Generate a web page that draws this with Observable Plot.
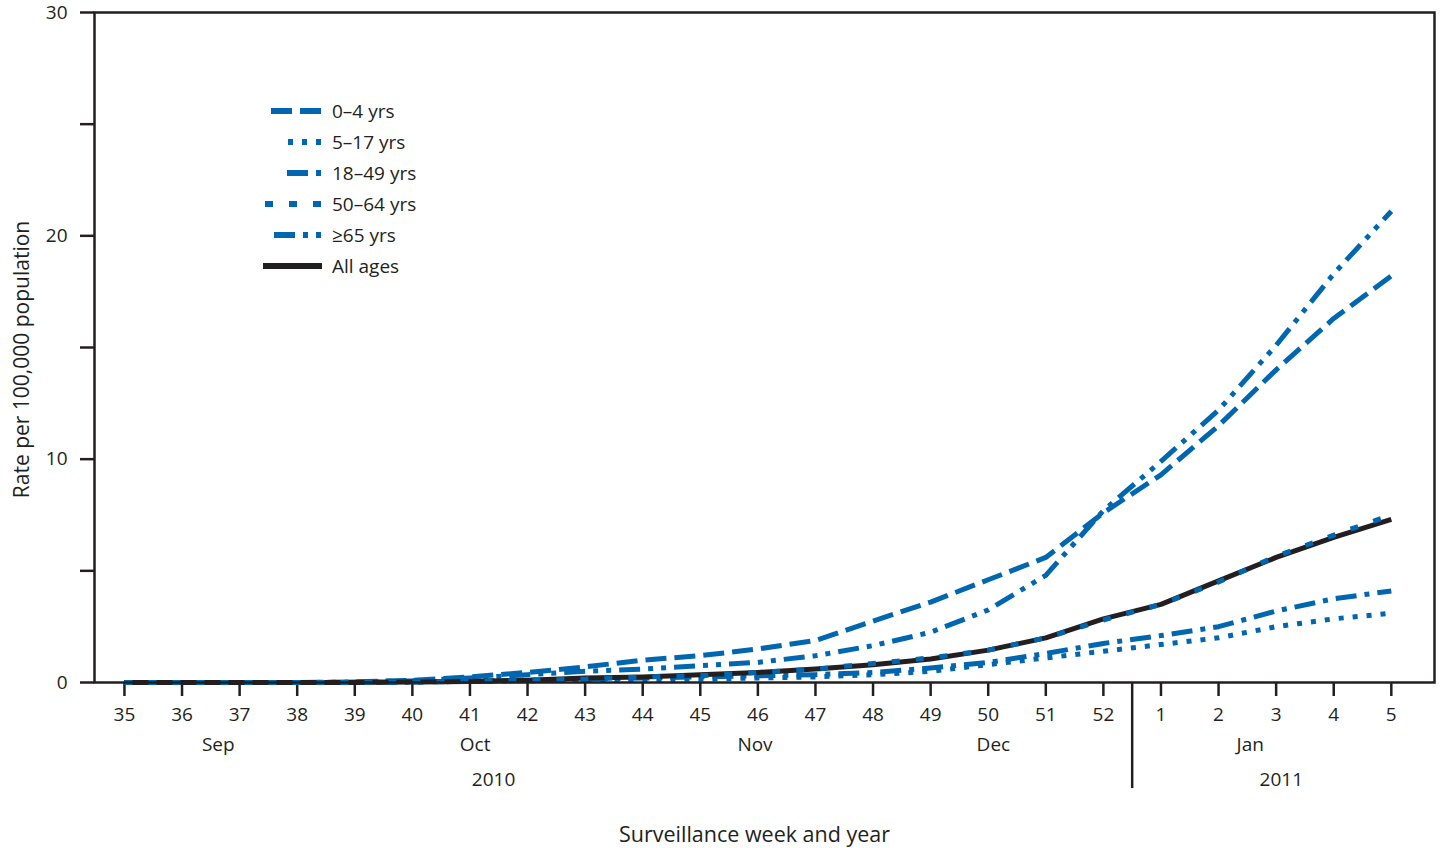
<!DOCTYPE html>
<html>
<head>
<meta charset="utf-8">
<script src="https://cdn.jsdelivr.net/npm/d3@7"></script>
<script src="https://cdn.jsdelivr.net/npm/@observablehq/plot@0.6"></script>
<style>
  html, body { margin: 0; padding: 0; background: #fff; }
  #chart { width: 1442px; height: 848px; }
</style>
</head>
<body>
<div id="chart"></div>
<script>
// Week labels (2010 weeks 35–52, then 2011 weeks 1–5)
const weeks = ["35","36","37","38","39","40","41","42","43","44","45","46","47","48","49","50","51","52","1","2","3","4","5"];

// Series values (rate per 100,000 population)
const age0_4   = [0, 0, 0, 0, 0.03, 0.1, 0.25, 0.45, 0.7, 1.0, 1.2, 1.5, 1.88, 2.75, 3.6, 4.6, 5.6, 7.6, 9.3, 11.5, 14.0, 16.3, 18.2];
const age5_17  = [0, 0, 0, 0, 0, 0.02, 0.05, 0.08, 0.1, 0.12, 0.15, 0.2, 0.25, 0.35, 0.5, 0.8, 1.1, 1.4, 1.7, 2.0, 2.5, 2.85, 3.1];
const age18_49 = [0, 0, 0, 0, 0, 0.03, 0.06, 0.1, 0.15, 0.2, 0.25, 0.3, 0.35, 0.45, 0.65, 0.9, 1.3, 1.75, 2.1, 2.5, 3.2, 3.75, 4.1];
const age50_64 = [0, 0, 0, 0, 0, 0.02, 0.05, 0.1, 0.15, 0.25, 0.3, 0.45, 0.6, 0.85, 1.1, 1.45, 2.0, 2.8, 3.5, 4.5, 5.65, 6.6, 7.5];
const age65    = [0, 0, 0, 0, 0.02, 0.08, 0.2, 0.35, 0.5, 0.6, 0.75, 0.9, 1.2, 1.65, 2.25, 3.25, 4.8, 7.7, 9.9, 12.2, 15.1, 18.3, 21.1];
const allAges  = [0, 0, 0, 0, 0, 0.02, 0.05, 0.1, 0.2, 0.25, 0.35, 0.45, 0.6, 0.8, 1.05, 1.45, 2.0, 2.85, 3.5, 4.55, 5.6, 6.5, 7.3];

// Month and year labels (positions in week-index units)
const monthNames = ["Sep", "Oct", "Nov", "Dec", "Jan"];
const monthPos   = [1.63, 6.09, 10.95, 15.09, 19.55];
const yearNames  = ["2010", "2011"];
const yearPos    = [6.41, 20.09];
const yearBreak  = [17.5];

// Legend
const legendLabels = ["0\u20134 yrs", "5\u201317 yrs", "18\u201349 yrs", "50\u201364 yrs", "\u226565 yrs", "All ages"];

const blue = "#0066b0";
const ink = "#231f20";
const font = "'Open Sans', Lato, sans-serif";

const toRows = (vals) => vals.map((v, i) => ({x: i, y: v}));

const series = [
  {vals: age0_4,   dash: "21,8",            color: blue},
  {vals: age5_17,  dash: "5,9",             color: blue},
  {vals: age18_49, dash: "21,8,5,8",        color: blue},
  {vals: age65,    dash: "21,8,5,8,5,8",    color: blue},
  {vals: allAges,  dash: null,              color: ink},
  {vals: age50_64, dash: "8,16",            color: blue}
];

const lineMarks = series.map(s => Plot.line(toRows(s.vals), {
  x: "x", y: "y", stroke: s.color, strokeWidth: 5,
  strokeDasharray: s.dash || undefined, strokeLinecap: "butt", strokeLinejoin: "round"
}));

const chart = Plot.plot({
  width: 1442,
  height: 848,
  marginLeft: 94,
  marginRight: 8,
  marginTop: 12,
  marginBottom: 166,
  x: {domain: [-0.52, 22.75]},
  y: {domain: [0, 30]},
  style: {fontFamily: font, fontSize: "19px", color: ink, background: "#fff"},
  marks: [
    Plot.axisY({ticks: [0, 5, 10, 15, 20, 25, 30], tickSize: 14, tickPadding: 13, strokeWidth: 2.5, stroke: ink,
      tickFormat: d => d % 10 === 0 ? String(d) : "", label: null, fontSize: 19}),
    Plot.axisX({ticks: weeks.map((_, i) => i), tickSize: 14, tickPadding: 11, strokeWidth: 2.5, stroke: ink,
      tickFormat: i => weeks[i], label: null, fontSize: 19}),
    Plot.ruleX(yearBreak, {y1: 0, y2: -4.75, stroke: ink, strokeWidth: 2.5}),
    Plot.text(monthNames, {x: (d, i) => monthPos[i], text: d => d, frameAnchor: "bottom", lineAnchor: "middle", dy: 62, fontSize: 19, fill: ink}),
    Plot.text(yearNames, {x: (d, i) => yearPos[i], text: d => d, frameAnchor: "bottom", lineAnchor: "middle", dy: 97, fontSize: 19, fill: ink}),
    Plot.text(["Surveillance week and year"], {frameAnchor: "bottom", lineAnchor: "middle", textAnchor: "middle", dx: -10, dy: 153, fontSize: 21.5, fill: ink}),
    Plot.text(["Rate per 100,000 population"], {frameAnchor: "left", textAnchor: "middle", lineAnchor: "middle", dx: -72, dy: 12, rotate: -90, fontSize: 21, fill: ink}),
    ...lineMarks,
    Plot.frame({stroke: ink, strokeWidth: 2.5})
  ]
});

document.getElementById("chart").appendChild(chart);

// Legend (drawn into the plot's SVG)
const svg = d3.select(chart);
const legendSpec = [
  {x1: 321, x2: 271, dash: "21,8",         color: blue},
  {x1: 321, x2: 288, dash: "5,9",          color: blue},
  {x1: 321, x2: 286, dash: "5,8,21,8",     color: blue},
  {x1: 321, x2: 265, dash: "8,16",         color: blue},
  {x1: 321, x2: 272, dash: "5,8,5,8,21,8", color: blue},
  {x1: 322, x2: 263, dash: null,           color: ink}
];
const lg = svg.append("g").attr("font-family", font).attr("font-size", 19).attr("text-anchor", "start");
legendLabels.forEach((label, i) => {
  const y = 111 + i * 31;
  const s = legendSpec[i];
  const ln = lg.append("line")
    .attr("x1", s.x1).attr("x2", s.x2).attr("y1", y).attr("y2", y)
    .attr("stroke", s.color).attr("stroke-width", 6).attr("stroke-linecap", "butt");
  if (s.dash) ln.attr("stroke-dasharray", s.dash);
  lg.append("text").attr("x", 332).attr("y", y).attr("dy", "0.35em")
    .attr("text-anchor", "start").attr("fill", ink).text(label);
});
</script>
</body>
</html>
